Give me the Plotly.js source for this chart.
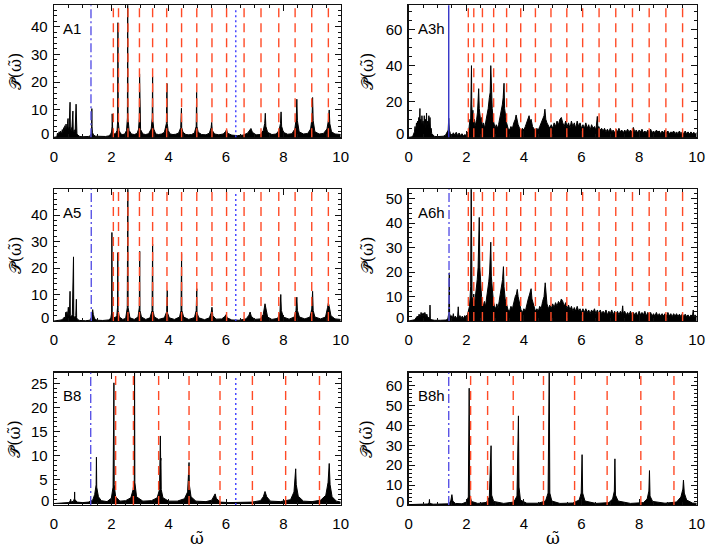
<!DOCTYPE html>
<html><head><meta charset="utf-8">
<script src="https://cdn.plot.ly/plotly-3.0.1.min.js"></script>
<style>html,body{margin:0;padding:0;background:#fff}</style>
</head><body><div id="chart" style="width:709px;height:550px"></div>
<script>
// ---------- data ----------
const A1_w = [0,0.1,0.12,0.15,0.18,0.2,0.23,0.26,0.29,0.31,
0.34,0.36,0.38,0.40,0.42,0.44,0.47,0.49,0.5,0.53,
0.56,0.57,0.6,0.63,0.66,0.67,0.7,0.74,0.77,0.78,
0.8,0.83,0.86,0.9,1.0,1.1,1.2,1.27,1.30,1.315,
1.32,1.325,1.34,1.38,1.45,1.6,1.8,1.9,1.97,2.01,
2.025,2.03,2.035,2.05,2.1,2.15,2.2,2.22,2.23,2.24,
2.27,2.33,2.4,2.47,2.53,2.56,2.57,2.58,2.62,2.7,
2.8,2.9,2.95,2.975,2.985,2.995,3.02,3.1,3.2,3.3,
3.39,3.425,3.44,3.45,3.48,3.55,3.65,3.75,3.85,3.92,
3.94,3.95,3.98,4.05,4.15,4.25,4.35,4.42,4.445,4.455,
4.5,4.6,4.7,4.8,4.9,4.96,4.975,4.985,5.03,5.15,
5.3,5.42,5.48,5.5,5.52,5.6,5.75,5.9,5.98,6.02,
6.05,6.2,6.4,6.6,6.75,6.82,6.87,6.92,7.05,7.2,
7.3,7.35,7.37,7.39,7.45,7.6,7.75,7.85,7.9,7.92,
7.94,8.0,8.15,8.3,8.4,8.45,8.47,8.49,8.55,8.7,
8.85,8.95,9.0,9.02,9.04,9.1,9.25,9.4,9.52,9.57,
9.6,9.62,9.68,9.8,9.9,10];
const A1_p = [0,0.2,1.5,0.8,2.0,1.0,2.2,1.2,2.8,1.4,
3.5,1.8,4.2,2.0,4.8,2.2,5.0,6.8,2.4,4.0,
12.7,3.0,2.5,4.0,9.5,2.6,2.0,3.0,12.0,2.0,
1.2,0.8,0.4,0.3,0.2,0.2,0.3,0.6,1.5,4,
10.4,4,1.8,0.8,0.4,0.3,0.3,0.5,1.0,2.0,
4,8.5,3.5,2,1.2,1.3,2.5,6,41.5,6,
2.5,1.2,1.0,1.2,2.5,7,52,7,2.5,1.2,
1.0,1.4,3,7,23,6,2.8,1.2,1.0,1.3,
3,7,22,6,3,1.2,1.0,1.2,1.8,5,
19.5,5,2.5,1.2,1.0,1.1,1.6,3.5,10.5,3.5,
1.8,1.0,0.9,1.0,1.6,4,16.3,4,1.8,1.0,
0.9,1.5,3.5,5.4,2.5,1.2,0.9,1.2,2,2.8,
1.5,0.8,0.6,0.8,1.5,2.8,3.2,1.8,0.9,1.0,
2.5,5,8.7,4,1.8,1.0,1.2,2.5,5,9.2,
4,1.8,1.1,1.3,3,7,13.8,6,2,1.2,
1.4,3,7,14.4,6,2,1.2,1.4,3,6,
9.9,5,2,1.2,1.0,1.0];

const A3h_w = [0,0.1,0.15,0.2,0.22,0.24,0.27,0.29,0.31,0.33,
0.35,0.37,0.39,0.40,0.42,0.44,0.46,0.48,0.5,0.52,
0.54,0.56,0.58,0.6,0.62,0.63,0.66,0.68,0.7,0.72,
0.74,0.76,0.78,0.8,0.85,0.9,1.0,1.1,1.2,1.28,
1.33,1.37,1.39,1.41,1.45,1.5,1.55,1.6,1.65,1.7,
1.75,1.8,1.85,1.9,1.95,2.0,2.05,2.08,2.1,2.13,
2.15,2.17,2.18,2.19,2.21,2.23,2.25,2.28,2.3,2.33,
2.36,2.39,2.41,2.43,2.45,2.47,2.5,2.53,2.56,2.6,
2.64,2.68,2.72,2.76,2.8,2.83,2.85,2.87,2.9,2.93,
2.96,3.0,3.04,3.08,3.12,3.16,3.2,3.25,3.28,3.31,
3.33,3.36,3.4,3.45,3.5,3.55,3.6,3.65,3.7,3.73,
3.76,3.8,3.85,3.9,3.95,4.0,4.05,4.1,4.15,4.18,
4.21,4.25,4.3,4.35,4.4,4.45,4.5,4.55,4.6,4.65,
4.7,4.73,4.76,4.8,4.85,4.9,4.95,5.0,5.05,5.1,
5.15,5.2,5.25,5.3,5.35,5.4,5.45,5.5,5.55,5.6,
5.65,5.7,5.75,5.8,5.85,5.9,5.95,6.0,6.05,6.1,
6.15,6.2,6.25,6.3,6.35,6.4,6.45,6.5,6.55,6.57,
6.6,6.65,6.7,6.75,6.8,6.85,6.9,6.95,7.0,7.05,
7.1,7.15,7.2,7.25,7.3,7.35,7.4,7.45,7.5,7.55,
7.6,7.65,7.7,7.75,7.8,7.85,7.9,7.95,8.0,8.05,
8.1,8.15,8.2,8.25,8.3,8.35,8.4,8.45,8.5,8.55,
8.6,8.65,8.7,8.75,8.8,8.85,8.9,8.95,9.0,9.05,
9.1,9.15,9.2,9.25,9.3,9.35,9.4,9.45,9.5,9.55,
9.6,9.65,9.7,9.75,9.8,9.85,9.9,9.95,10];
const A3h_p = [0,0.2,1,3,6,3,8,4,9,5,
11,6,16,7,10,5,12,6,9,5,
12,6,10,5,13.5,6,9,4,12,5,
11,3,5,2,1,0.5,0.4,0.4,0.6,1.2,
2.5,4,10.6,4,2,1,2.5,1.2,2.8,1.0,
2.4,1.0,2,0.8,1.5,1,3,2,6,10,
8,20,39.8,18,12,15,8,10,6,8,
10,14,18,27,16,12,9,11,6,8,
5,9,12,16,22,25,39.8,22,16,10,
7,5,7,5,7,10,14,18,22,30,
16,12,8,5,4,6,5,8,10,12.4,
9,7,5,3.5,5,4,6,8,11,12,
9,10,6,4.5,3.5,5,4,6,8,10,
12,15.6,10,8,6,5,7,5,8,6,
9,7,10,11,8,6,9,6,8,5,
9,6,8,5,9,6,8,5,7,5,
8,5,7,4,7,5,6,4,11.6,5,
6,4,5,3.5,5,3,4.5,3,5,3,
4,2.5,4.5,3,5,3,4,2.5,4,3,
4.5,3,4,3,5.5,3,4,2.5,4,3,
4.5,2.5,3.5,2.5,4,3,4.5,2.5,3.5,2.5,
4,3,3.5,2,3.5,2.5,4,2.5,3.5,2,
3,2.5,3.5,2,3,2,3.5,2,3,2,
3.5,2,3,1.8,3,2,2.8,1.8,2.5];

const A5_w = [0,0.15,0.25,0.32,0.36,0.39,0.41,0.43,0.45,0.47,
0.5,0.52,0.54,0.56,0.57,0.6,0.64,0.68,0.69,0.72,
0.76,0.78,0.79,0.83,0.9,1.1,1.25,1.3,1.33,1.35,
1.37,1.42,1.5,1.7,1.9,1.98,2.01,2.02,2.03,2.07,
2.13,2.19,2.215,2.225,2.235,2.28,2.4,2.5,2.555,2.575,
2.585,2.65,2.8,2.93,2.975,2.99,3.0,3.05,3.2,3.35,
3.42,3.44,3.45,3.5,3.65,3.85,3.93,3.95,3.96,4.02,
4.2,4.38,4.43,4.45,4.46,4.52,4.7,4.9,4.96,4.98,
4.99,5.05,5.25,5.42,5.48,5.51,5.54,5.65,5.85,5.95,
6.0,6.04,6.2,6.45,6.7,6.8,6.84,6.88,7.0,7.2,
7.3,7.36,7.38,7.45,7.6,7.8,7.88,7.91,7.93,8.0,
8.2,8.38,8.44,8.47,8.49,8.56,8.75,8.93,8.99,9.02,
9.04,9.1,9.3,9.47,9.54,9.57,9.6,9.66,9.8,10];
const A5_p = [0,0.2,0.4,0.8,1.5,0.9,3.3,1.2,3.5,1.5,
5.2,1.8,3,11.2,2,1.5,2.5,24.2,2,1.2,
2,8.2,1.2,0.5,0.2,0.1,0.3,1.2,3,4.3,
2.5,0.8,0.3,0.2,0.4,1.0,3,33.4,3,1.5,
1.2,2,5,25.8,4,1.5,0.6,1.0,5,52,
5,1.2,0.6,1.5,5,26.3,4,1.5,0.6,1.2,
4,29,4,1.5,0.6,1.2,3.5,11.5,3,1.2,
0.6,1.5,4,25.5,4,1.5,0.6,1.3,4,12.2,
3,1.2,0.5,1.2,3,5.2,2,0.7,0.8,1.6,
2.4,1.2,0.4,0.3,0.8,2.2,3.4,1.8,0.6,0.8,
2.5,6.5,5,1.5,0.6,1.0,3,10,4,1.5,
0.7,1.5,4,9,4,1.5,0.8,1.5,4.5,11.2,
4,1.5,0.8,1.5,5,6.8,5.5,2,0.8,0.6];

const A6h_w = [0,0.1,0.2,0.25,0.3,0.33,0.36,0.4,0.43,0.46,
0.5,0.53,0.56,0.6,0.63,0.66,0.7,0.73,0.74,0.75,
0.8,0.9,1.1,1.3,1.36,1.39,1.41,1.42,1.46,1.5,
1.53,1.55,1.57,1.62,1.66,1.7,1.72,1.74,1.78,1.82,
1.86,1.9,1.95,2.0,2.04,2.08,2.11,2.13,2.15,2.17,
2.18,2.2,2.23,2.26,2.29,2.32,2.35,2.38,2.41,2.43,
2.45,2.47,2.5,2.53,2.56,2.6,2.63,2.67,2.7,2.74,
2.78,2.81,2.83,2.85,2.87,2.9,2.94,2.98,3.02,3.06,
3.1,3.14,3.18,3.22,3.26,3.29,3.31,3.35,3.4,3.45,
3.5,3.55,3.6,3.65,3.7,3.74,3.77,3.8,3.85,3.9,
3.95,4.0,4.05,4.1,4.15,4.2,4.25,4.28,4.32,4.36,
4.4,4.45,4.5,4.55,4.6,4.65,4.7,4.74,4.77,4.8,
4.85,4.9,4.95,5.0,5.05,5.1,5.15,5.2,5.25,5.3,
5.35,5.4,5.45,5.5,5.55,5.6,5.65,5.7,5.75,5.8,
5.85,5.9,5.95,6.0,6.05,6.1,6.15,6.2,6.25,6.3,
6.35,6.4,6.45,6.5,6.55,6.6,6.65,6.7,6.75,6.8,
6.85,6.9,6.95,7.0,7.05,7.1,7.15,7.2,7.25,7.3,
7.35,7.4,7.43,7.45,7.5,7.55,7.6,7.65,7.7,7.75,
7.8,7.85,7.9,7.95,8.0,8.05,8.1,8.15,8.2,8.25,
8.3,8.35,8.4,8.45,8.5,8.55,8.6,8.65,8.7,8.75,
8.8,8.85,8.9,8.95,9.0,9.05,9.1,9.15,9.2,9.25,
9.3,9.35,9.4,9.45,9.5,9.55,9.6,9.65,9.7,9.75,
9.8,9.85,9.88,9.9,9.95,10];
const A6h_p = [0,0.2,0.5,1.2,2,1.2,2.8,1.5,3.5,2,
3.3,2,3.5,1.8,2.8,1.2,1.5,1,6.5,1,
0.5,0.3,0.3,0.4,1,3,19.7,3,1.5,2.2,
1,3,1.2,2,1,2,5.8,1.5,2.2,1,
2,1,2.2,1.2,2.5,4,6,9,14,55,
20,10,8,11,7,10,13,17,22,30,
42.3,22,14,10,8,6,8,6,9,12,
16,20,25,32.2,18,12,8,6,5,7,
5,8,11,14,17,22.2,14,9,6,4.5,
4,6,5,8,10,11,12.9,10,7,4.5,
3.5,5,4,7,9,11,13.2,9,7,5,
4,5,4,6,5,8,10,15.6,9,7,
5,6.5,5,7,5.5,7.5,6,8,7,9,
8,6,7.5,5,6.5,4.5,6,4,5.5,4,
6,4,5,3.5,5,3.5,5,3.5,4.5,3,
4.5,3.5,5,3,4.5,3,4.5,3,4,3,
4.5,2.5,4,3,4.5,2.5,4,3,4,2.5,
4,3,6.2,3,4,2.5,3.5,2.5,4,2.5,
3.5,2.5,3.5,2,4,2.5,3.5,2.5,4,2,
3.5,2.5,3.5,2,3,2,3.5,2,3,2,
3,2,3,2,3.5,2,3,1.8,3,2,
3,1.8,2.8,1.8,3,1.8,2.8,1.8,2.5,1.5,
2.5,1.8,4.5,1.8,2.5,1.5];

const B8_w = [0,0.3,0.5,0.56,0.58,0.6,0.68,0.715,0.72,0.725,
0.8,1.0,1.2,1.35,1.42,1.47,1.48,1.49,1.55,1.65,
1.85,2.0,2.06,2.09,2.1,2.15,2.3,2.5,2.68,2.76,
2.8,2.81,2.82,2.88,3.1,3.4,3.6,3.68,3.71,3.72,
3.73,3.74,3.8,4.0,4.3,4.55,4.66,4.7,4.71,4.72,
4.78,4.95,5.3,5.5,5.58,5.62,5.66,5.8,6.1,6.5,
6.9,7.2,7.3,7.36,7.42,7.55,7.9,8.25,8.37,8.43,
8.45,8.52,8.7,9.0,9.3,9.48,9.56,9.6,9.63,9.7,
9.85,10];
const B8_p = [0.1,0.2,0.3,0.5,1.0,0.4,0.6,1.2,2.5,1.0,
0.4,0.3,0.4,0.8,2,4,9.7,3.5,1.5,0.7,
0.5,1.2,3.5,25.1,4,1.5,0.6,0.7,1.3,3,
5,29,4.5,1.5,0.6,0.7,1.3,3,14.1,9,
9.5,3,1.3,0.6,0.6,1.1,2.5,6.5,8.6,4,
1.5,0.6,0.5,0.8,1.5,2.1,1.2,0.4,0.3,0.3,
0.4,0.7,1.5,2.6,1.5,0.6,0.5,0.9,2.5,7.3,
4,1.6,0.6,0.5,0.8,1.8,4.5,8.4,4,1.5,
0.6,0.4];

const B8h_w = [0,0.4,0.65,0.71,0.72,0.73,0.85,1.2,1.4,1.46,
1.5,1.53,1.62,1.85,2.0,2.07,2.1,2.12,2.18,2.4,
2.7,2.8,2.86,2.88,2.95,3.3,3.65,3.76,3.81,3.83,
3.88,4.1,4.5,4.75,4.84,4.88,4.9,4.97,5.25,5.7,
5.92,5.99,6.02,6.04,6.12,6.5,6.95,7.08,7.14,7.16,
7.18,7.27,7.7,8.15,8.28,8.34,8.36,8.38,8.47,8.9,
9.3,9.45,9.52,9.54,9.57,9.65,9.85,10];
const B8h_p = [0.2,0.3,0.5,1,2.8,0.8,0.4,0.3,0.6,2,
5.2,2,0.8,0.6,1.5,4,58.7,5,1.8,0.8,
1.3,4,29.8,5,1.8,0.8,1.5,4.5,44.8,9,
2.5,0.9,0.9,2,6,70,6,2,0.8,1,
2.5,6,25.3,6,2,0.8,1.2,3,7,23.2,
5,2,0.8,1.2,3,7,17.3,4.5,1.8,0.9,
1.5,4,8,12.5,6,2.5,1,0.8];

// reference frequencies (vertical lines)
const A1_red  = [2.07,2.25,2.58,2.98,3.44,3.93,4.45,4.98,5.51,6.02,6.63,7.22,7.84,8.41,8.99,9.57];
const A5_red  = [2.07,2.25,2.58,2.98,3.44,3.94,4.45,4.98,5.51,6.02,6.63,7.22,7.84,8.41,8.99,9.57];
const A3h_red = [2.07,2.26,2.56,2.95,3.40,3.89,4.40,4.94,5.49,6.04,6.61,7.19,7.77,8.35,8.93,9.51];
const A6h_red = [2.07,2.26,2.56,2.95,3.40,3.89,4.40,4.94,5.49,6.04,6.61,7.19,7.77,8.35,8.93,9.51];
const B8_red  = [2.15,2.77,3.65,4.71,5.79,6.92,8.08,9.26];
const B8h_red = [2.15,2.74,3.63,4.68,5.76,6.89,8.06,9.21];
const blueLine = {A1:1.29, A3h:1.39, A5:1.30, A6h:1.40, B8:1.28, B8h:1.39};
const dottedLine = {A1:6.34, A5:6.34, B8:6.34};
const xTicks = [0,2,4,6,8,10];

// ---------- layout ----------
const FONT = 'Liberation Sans, Arial, Helvetica, sans-serif';
const W = 709, H = 550;
const colL = [54/W, 340.7/W], colR = [408.7/W, 696.7/W];
const rowT = [1-137.3/H, 1-5.3/H], rowM = [1-321/H, 1-189.3/H], rowB = [1-505/H, 1-372.7/H];

const panels = [
  {name:'A1',  w:A1_w,  p:A1_p,  red:A1_red,  xd:colL, yd:rowT, yr:[0,47.8], dt:10, mdt:2, blueDash:'9px,3px,2px,3px', blueColor:'#5b55e6'},
  {name:'A3h', w:A3h_w, p:A3h_p, red:A3h_red, xd:colR, yd:rowT, yr:[0,73.3], dt:20, mdt:5, blueDash:'solid', blueColor:'#3434c8'},
  {name:'A5',  w:A5_w,  p:A5_p,  red:A5_red,  xd:colL, yd:rowM, yr:[0,49.7], dt:10, mdt:2, blueDash:'9px,3px,2px,3px', blueColor:'#5b55e6'},
  {name:'A6h', w:A6h_w, p:A6h_p, red:A6h_red, xd:colR, yd:rowM, yr:[0,53.8], dt:10, mdt:2, blueDash:'9px,3px,2px,3px', blueColor:'#5b55e6'},
  {name:'B8',  w:B8_w,  p:B8_p,  red:B8_red,  xd:colL, yd:rowB, yr:[-0.2,27.2], dt:5, mdt:1, blueDash:'9px,3px,2px,3px', blueColor:'#5b55e6'},
  {name:'B8h', w:B8h_w, p:B8h_p, red:B8h_red, xd:colR, yd:rowB, yr:[0,66.5], dt:10, mdt:2, blueDash:'9px,3px,2px,3px', blueColor:'#5b55e6'}
];

const traces = [], shapes = [], annotations = [];
const layout = {
  width: W, height: H, margin:{l:0,r:0,t:0,b:0},
  paper_bgcolor:'#fff', plot_bgcolor:'#fff', showlegend:false,
  font:{family:FONT, size:15, color:'#000'}
};

panels.forEach((pn, i) => {
  const n = i + 1, sx = n === 1 ? '' : String(n);
  const xa = 'x' + sx, ya = 'y' + sx;
  traces.push({
    type:'scatter', mode:'lines', x: pn.w, y: pn.p, xaxis: xa, yaxis: ya,
    line:{color:'#000', width:1}, fill:'tozeroy', fillcolor:'#000', hoverinfo:'skip'
  });
  const yVals = []; const yText = [];
  for (let v = 0; v <= pn.yr[1]; v += pn.dt) { yVals.push(v); yText.push(v === 0 ? '' : String(v)); }
  const common = {
    showline:true, linecolor:'#111', linewidth:1.3, mirror:'ticks',
    ticks:'inside', ticklen:6, tickwidth:1, tickcolor:'#111',
    showgrid:false, zeroline:false, fixedrange:true,
    tickfont:{family:FONT, size:15, color:'#000'}
  };
  layout['xaxis' + sx] = Object.assign({}, common, {
    domain: pn.xd, anchor: ya, range:[0,10], tickmode:'array', tickvals:xTicks,
    minor:{dtick:0.5, tick0:0, ticks:'inside', ticklen:3, tickcolor:'#111'},
    ticklabelstandoff: 5
  });
  layout['yaxis' + sx] = Object.assign({}, common, {
    domain: pn.yd, anchor: xa, range: pn.yr, tickmode:'array', tickvals:yVals, ticktext:yText,
    minor:{dtick:pn.mdt, tick0:0, ticks:'inside', ticklen:3, tickcolor:'#111'},
    ticklabelstandoff: 2
  });
  // zero label, lifted a little as in the reference
  annotations.push({xref: xa + ' domain', x:0, xanchor:'right', xshift:-3, yref: ya, y:0, yanchor:'middle', yshift:4,
    text:'0', showarrow:false, font:{family:FONT, size:15, color:'#000'}});
  // red dashed harmonic lines
  pn.red.forEach(v => shapes.push({type:'line', xref:xa, yref: ya + ' domain', x0:v, x1:v, y0:0, y1:1, layer:'above',
    line:{color:'#ff4a26', width:1.4, dash:'9px,6px'}}));
  // blue line
  shapes.push({type:'line', xref:xa, yref: ya + ' domain', x0:blueLine[pn.name], x1:blueLine[pn.name], y0:0, y1:1, layer:'above',
    line:{color:pn.blueColor, width:1.4, dash:pn.blueDash}});
  if (dottedLine[pn.name] !== undefined) {
    shapes.push({type:'line', xref:xa, yref: ya + ' domain', x0:dottedLine[pn.name], x1:dottedLine[pn.name], y0:0, y1:0.97, layer:'above',
      line:{color:'#3c3cff', width:1.4, dash:'2px,3px'}});
  }
  // panel label
  annotations.push({xref: xa + ' domain', x:0.025, xanchor:'left', yref: ya + ' domain', y:0.825, yanchor:'middle',
    text: pn.name, showarrow:false, font:{family:FONT, size:15, color:'#000'}});
  // y title
  const xTitle = (pn.xd === colL) ? 15/W : 367/W;
  annotations.push({xref:'paper', x:xTitle, xanchor:'center', yref:'paper', y:(pn.yd[0]+pn.yd[1])/2, yanchor:'middle',
    textangle:-90, text:'𝒫̃(ω̃)', showarrow:false, font:{family:'DejaVu Serif, serif', size:16, color:'#000'}});
});
// x titles under bottom panels
[colL, colR].forEach(c => annotations.push({xref:'paper', x:(c[0]+c[1])/2, xanchor:'center', yref:'paper', y:12/H, yanchor:'middle',
  text:'ω̃', showarrow:false, font:{family:'DejaVu Serif, serif', size:17, color:'#000'}}));

layout.shapes = shapes;
layout.annotations = annotations;
Plotly.newPlot('chart', traces, layout, {displayModeBar:false, staticPlot:true});
</script></body></html>
